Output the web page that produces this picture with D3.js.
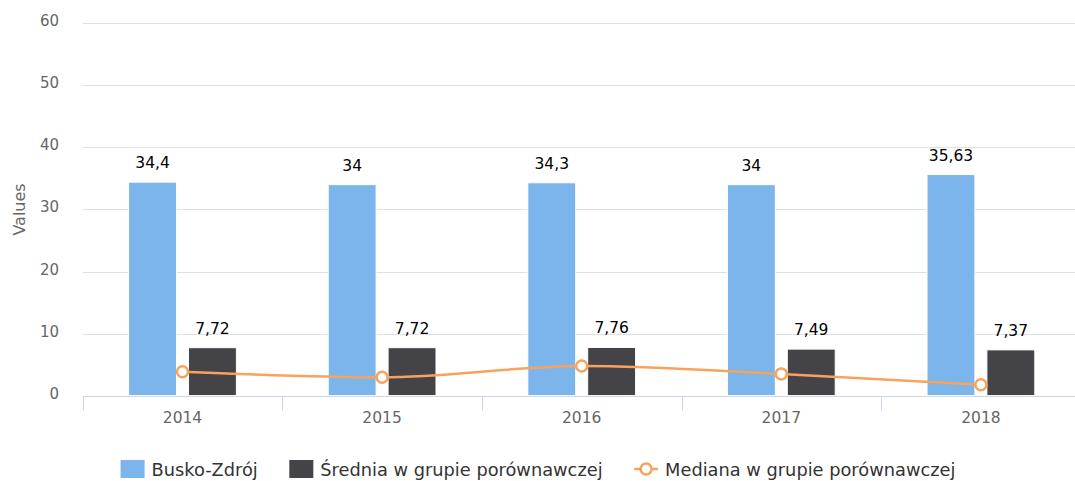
<!DOCTYPE html>
<html>
<head>
<meta charset="utf-8">
<script src="https://cdn.jsdelivr.net/npm/d3@7"></script>
<style>
  html, body { margin: 0; padding: 0; background: #fff; }
  svg { display: block; font-family: "DejaVu Sans", sans-serif; }
</style>
</head>
<body>
<svg id="chart" width="1075" height="481"></svg>
<script>
const years = ["2014", "2015", "2016", "2017", "2018"];
const busko = [34.4, 34, 34.3, 34, 35.63];
const srednia = [7.72, 7.72, 7.76, 7.49, 7.37];
const mediana = [3.85, 2.95, 4.77, 3.5, 1.75];
const seriesNames = ["Busko-Zdrój", "Średnia w grupie porównawczej", "Mediana w grupie porównawczej"];
const yTicks = [0, 10, 20, 30, 40, 50, 60];
const colors = ["#7cb5ec", "#434348", "#f7a35c"];

(function () {
const svg = d3.select("#chart");
const pLeft = 82.7, pRight = 1080.7, pTop = 23.3, pBottom = 395.6;

const x = d3.scaleBand().domain(years).range([pLeft, pRight]).paddingInner(0).paddingOuter(0);
const bw = x.bandwidth();
const inner = d3.scaleBand().domain([0, 1]).range([0.2 * bw, 0.8 * bw]).paddingInner(0.2).paddingOuter(0.1);
const y = d3.scaleLinear().domain([0, 60]).range([pBottom, pTop]);

const fmt = v => String(+v.toFixed(2)).replace(".", ",");

// gridlines
svg.append("g").selectAll("line").data(yTicks.filter(t => t > 0)).join("line")
  .attr("x1", pLeft).attr("x2", pRight)
  .attr("y1", d => Math.round(y(d)) + 0.5).attr("y2", d => Math.round(y(d)) + 0.5)
  .attr("stroke", "#e0e0e0").attr("stroke-width", 1);

// y tick labels
svg.append("g").selectAll("text").data(yTicks).join("text")
  .attr("x", 59).attr("y", d => y(d) + 3)
  .attr("text-anchor", "end")
  .attr("font-size", "15px").attr("fill", "#666")
  .text(d => d);

// y title
svg.append("text")
  .attr("transform", `translate(25,${(pTop + pBottom) / 2}) rotate(-90)`)
  .attr("text-anchor", "middle").attr("font-size", "16px").attr("fill", "#666")
  .text("Values");

// x axis
const xAxisG = svg.append("g");
xAxisG.append("line").attr("x1", pLeft).attr("x2", pRight)
  .attr("y1", Math.round(pBottom) + 0.5).attr("y2", Math.round(pBottom) + 0.5)
  .attr("stroke", "#ccd6eb").attr("stroke-width", 1);
const boundaries = years.map(d => x(d)).concat([pRight]);
xAxisG.selectAll("line.tick").data(boundaries).join("line").attr("class", "tick")
  .attr("x1", d => Math.round(d) + 0.5).attr("x2", d => Math.round(d) + 0.5)
  .attr("y1", Math.round(pBottom)).attr("y2", Math.round(pBottom) + 14)
  .attr("stroke", "#ccd6eb").attr("stroke-width", 1);
xAxisG.selectAll("text").data(years).join("text")
  .attr("x", d => x(d) + bw / 2).attr("y", 423)
  .attr("text-anchor", "middle").attr("font-size", "15.5px").attr("fill", "#666")
  .text(d => d);

// bars
const barSeries = [busko, srednia];
barSeries.forEach((vals, si) => {
  const g = svg.append("g");
  g.selectAll("rect").data(vals).join("rect")
    .attr("x", (d, i) => x(years[i]) + inner(si))
    .attr("y", d => y(d))
    .attr("width", inner.bandwidth())
    .attr("height", d => pBottom - y(d))
    .attr("fill", colors[si])
    .attr("stroke", "#fff").attr("stroke-width", 1);
});

// median line
const line = d3.line()
  .x((d, i) => x(years[i]) + bw / 2)
  .y(d => y(d))
  .curve(d3.curveMonotoneX);
svg.append("path").datum(mediana)
  .attr("d", line).attr("fill", "none")
  .attr("stroke", colors[2]).attr("stroke-width", 2.5);
svg.append("g").selectAll("circle").data(mediana).join("circle")
  .attr("cx", (d, i) => x(years[i]) + bw / 2).attr("cy", d => y(d))
  .attr("r", 5.5).attr("fill", "#fff")
  .attr("stroke", colors[2]).attr("stroke-width", 2.5);

// data labels
barSeries.forEach((vals, si) => {
  svg.append("g").selectAll("text").data(vals).join("text")
    .attr("x", (d, i) => x(years[i]) + inner(si) + inner.bandwidth() / 2)
    .attr("y", d => y(d) - 14)
    .attr("text-anchor", "middle").attr("font-size", "15.5px").attr("fill", "#000")
    .text(d => fmt(d));
});

// legend
const legend = svg.append("g");
const items = [];
const legY = 469;
seriesNames.forEach((name, i) => {
  const g = legend.append("g");
  if (i < 2) {
    g.append("rect").attr("x", 0).attr("y", legY - 9).attr("width", 24).attr("height", 18)
      .attr("fill", colors[i]);
  } else {
    g.append("line").attr("x1", 0).attr("x2", 24).attr("y1", legY).attr("y2", legY)
      .attr("stroke", colors[2]).attr("stroke-width", 2.5);
    g.append("circle").attr("cx", 12).attr("cy", legY).attr("r", 5.5)
      .attr("fill", "#fff").attr("stroke", colors[2]).attr("stroke-width", 2.5);
  }
  const t = g.append("text").attr("x", 31).attr("y", legY + 7)
    .attr("font-size", "17.8px").attr("fill", "#333").text(name);
  items.push({ g, w: 31 + t.node().getComputedTextLength() });
});
const gap = 31.5;
const total = d3.sum(items, d => d.w) + gap * (items.length - 1);
let cx = 538 - total / 2;
items.forEach(it => {
  it.g.attr("transform", `translate(${cx},0)`);
  cx += it.w + gap;
});
})();
</script>
</body>
</html>
